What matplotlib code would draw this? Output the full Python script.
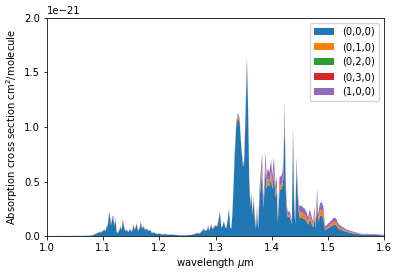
import matplotlib
matplotlib.use("Agg")
import matplotlib.pyplot as plt
import numpy as np

wavelength = [
    1.000, 1.020, 1.040, 1.060, 1.075, 1.082, 1.086, 1.090, 1.093, 1.096, 1.099,
    1.102, 1.104, 1.106, 1.108, 1.110, 1.112, 1.114, 1.116, 1.118, 1.120,
    1.122, 1.124, 1.126, 1.128, 1.131, 1.133, 1.135, 1.137, 1.139, 1.142,
    1.145, 1.148, 1.151, 1.154, 1.156, 1.158, 1.160, 1.162, 1.165, 1.167,
    1.169, 1.172, 1.175, 1.178, 1.181, 1.184, 1.187, 1.190, 1.195, 1.200,
    1.205, 1.210, 1.215, 1.220, 1.230, 1.240, 1.250, 1.258, 1.263, 1.268,
    1.272, 1.276, 1.279, 1.282, 1.285, 1.287, 1.289, 1.292, 1.295, 1.298,
    1.300, 1.303, 1.305, 1.308, 1.310, 1.313, 1.315, 1.317, 1.319, 1.322,
    1.324, 1.326, 1.328, 1.330, 1.332, 1.334, 1.337, 1.340, 1.343, 1.346,
    1.349, 1.351, 1.353, 1.356, 1.358, 1.360, 1.362, 1.364, 1.366, 1.368,
    1.370, 1.372, 1.374, 1.376, 1.378, 1.380, 1.383, 1.385, 1.387, 1.389,
    1.391, 1.393, 1.396, 1.399, 1.401, 1.404, 1.407, 1.409, 1.411, 1.414,
    1.417, 1.419, 1.421, 1.423, 1.425, 1.427, 1.429, 1.431, 1.433, 1.436,
    1.438, 1.440, 1.442, 1.444, 1.446, 1.448,
    1.450, 1.453, 1.456, 1.459, 1.462, 1.465, 1.468, 1.471, 1.474, 1.476,
    1.478, 1.481, 1.483, 1.486, 1.489, 1.492, 1.495, 1.498, 1.502, 1.506,
    1.511, 1.515, 1.518, 1.521, 1.527, 1.533, 1.539, 1.545, 1.553, 1.560,
    1.570, 1.580, 1.590, 1.600,
]

# values in units of 1e-21 cm^2/molecule
band_000 = [
    0.000, 0.001, 0.001, 0.002, 0.003, 0.007, 0.018, 0.026, 0.035, 0.031, 0.044,
    0.053, 0.044, 0.079, 0.088, 0.176, 0.185, 0.097, 0.150, 0.167, 0.088,
    0.150, 0.035, 0.026, 0.044, 0.079, 0.053, 0.141, 0.088, 0.044, 0.053,
    0.035, 0.062, 0.035, 0.097, 0.053, 0.079, 0.106, 0.044, 0.070, 0.123,
    0.070, 0.079, 0.053, 0.062, 0.044, 0.053, 0.026, 0.031, 0.018, 0.022,
    0.013, 0.018, 0.011, 0.013, 0.009, 0.005, 0.007, 0.011, 0.018, 0.026,
    0.022, 0.044, 0.062, 0.044, 0.053, 0.088, 0.044, 0.097, 0.062, 0.079,
    0.096, 0.086, 0.134, 0.221, 0.077, 0.096, 0.134, 0.086, 0.067, 0.154,
    0.250, 0.077, 0.067, 0.192, 0.432, 0.720, 1.010, 1.090, 1.040, 0.800,
    0.635, 0.672, 1.010, 1.600, 1.155, 0.525, 0.270, 0.370, 0.190, 0.330,
    0.156, 0.062, 0.218, 0.055, 0.312, 0.429, 0.593, 0.257, 0.390, 0.601,
    0.429, 0.484, 0.452, 0.546, 0.429, 0.562, 0.351, 0.429, 0.125, 0.421,
    0.429, 0.452, 0.546, 1.100, 0.429, 0.218, 0.172, 0.179, 0.164, 0.109,
    0.930, 0.273, 0.109, 0.600, 0.390, 0.234,
    0.167, 0.174, 0.161, 0.155, 0.136, 0.105, 0.155, 0.112, 0.081, 0.167,
    0.074, 0.300, 0.124, 0.186, 0.192, 0.167, 0.056, 0.062, 0.074, 0.087,
    0.105, 0.099, 0.074, 0.062, 0.050, 0.037, 0.031, 0.025, 0.019, 0.012,
    0.012, 0.011, 0.009, 0.006,
]

band_010 = [
    0.000, 0.000, 0.000, 0.000, 0.000, 0.000, 0.001, 0.002, 0.002, 0.002, 0.003,
    0.003, 0.003, 0.005, 0.005, 0.010, 0.010, 0.006, 0.008, 0.010, 0.005,
    0.008, 0.002, 0.002, 0.003, 0.005, 0.003, 0.008, 0.005, 0.003, 0.003,
    0.002, 0.003, 0.002, 0.006, 0.003, 0.005, 0.006, 0.003, 0.004, 0.007,
    0.004, 0.005, 0.003, 0.003, 0.003, 0.003, 0.002, 0.002, 0.001, 0.001,
    0.001, 0.001, 0.000, 0.001, 0.000, 0.000, 0.000, 0.000, 0.001, 0.002,
    0.001, 0.003, 0.003, 0.003, 0.003, 0.005, 0.003, 0.006, 0.003, 0.005,
    0.002, 0.002, 0.003, 0.005, 0.002, 0.002, 0.003, 0.002, 0.002, 0.003,
    0.005, 0.002, 0.002, 0.004, 0.009, 0.015, 0.020, 0.020, 0.020, 0.015,
    0.013, 0.014, 0.020, 0.025, 0.023, 0.013, 0.020, 0.020, 0.020, 0.020,
    0.014, 0.006, 0.020, 0.005, 0.028, 0.039, 0.053, 0.023, 0.035, 0.054,
    0.039, 0.043, 0.041, 0.049, 0.039, 0.050, 0.032, 0.039, 0.011, 0.038,
    0.039, 0.041, 0.049, 0.060, 0.039, 0.020, 0.015, 0.016, 0.015, 0.010,
    0.040, 0.025, 0.010, 0.040, 0.035, 0.021,
    0.043, 0.045, 0.042, 0.040, 0.035, 0.027, 0.040, 0.029, 0.021, 0.043,
    0.019, 0.050, 0.032, 0.048, 0.050, 0.043, 0.014, 0.016, 0.019, 0.022,
    0.027, 0.026, 0.019, 0.016, 0.013, 0.010, 0.008, 0.006, 0.005, 0.003,
    0.003, 0.003, 0.002, 0.002,
]

band_020 = [
    0.000, 0.000, 0.000, 0.000, 0.000, 0.000, 0.000, 0.000, 0.000, 0.000, 0.000,
    0.000, 0.000, 0.000, 0.000, 0.000, 0.000, 0.000, 0.000, 0.000, 0.000,
    0.000, 0.000, 0.000, 0.000, 0.000, 0.000, 0.000, 0.000, 0.000, 0.000,
    0.000, 0.000, 0.000, 0.000, 0.000, 0.000, 0.000, 0.000, 0.000, 0.000,
    0.000, 0.000, 0.000, 0.000, 0.000, 0.000, 0.000, 0.000, 0.000, 0.000,
    0.000, 0.000, 0.000, 0.000, 0.000, 0.000, 0.000, 0.000, 0.000, 0.000,
    0.000, 0.000, 0.000, 0.000, 0.000, 0.000, 0.000, 0.000, 0.000, 0.000,
    0.000, 0.000, 0.000, 0.000, 0.000, 0.000, 0.000, 0.000, 0.000, 0.000,
    0.000, 0.000, 0.000, 0.000, 0.000, 0.001, 0.001, 0.001, 0.001, 0.001,
    0.001, 0.001, 0.001, 0.001, 0.001, 0.000, 0.000, 0.000, 0.000, 0.000,
    0.000, 0.000, 0.000, 0.000, 0.001, 0.001, 0.001, 0.000, 0.001, 0.001,
    0.001, 0.001, 0.001, 0.001, 0.001, 0.001, 0.000, 0.001, 0.000, 0.001,
    0.001, 0.001, 0.001, 0.001, 0.001, 0.000, 0.000, 0.000, 0.000, 0.000,
    0.001, 0.000, 0.000, 0.001, 0.001, 0.000,
    0.001, 0.001, 0.001, 0.001, 0.001, 0.000, 0.001, 0.000, 0.000, 0.001,
    0.000, 0.001, 0.000, 0.001, 0.001, 0.001, 0.000, 0.000, 0.000, 0.000,
    0.000, 0.000, 0.000, 0.000, 0.000, 0.000, 0.000, 0.000, 0.000, 0.000,
    0.000, 0.000, 0.000, 0.000,
]

band_030 = [
    0.000, 0.000, 0.000, 0.000, 0.000, 0.000, 0.000, 0.000, 0.000, 0.000, 0.000,
    0.000, 0.000, 0.000, 0.000, 0.000, 0.000, 0.000, 0.000, 0.000, 0.000,
    0.000, 0.000, 0.000, 0.000, 0.000, 0.000, 0.000, 0.000, 0.000, 0.000,
    0.000, 0.000, 0.000, 0.000, 0.000, 0.000, 0.000, 0.000, 0.000, 0.000,
    0.000, 0.000, 0.000, 0.000, 0.000, 0.000, 0.000, 0.000, 0.000, 0.000,
    0.000, 0.000, 0.000, 0.000, 0.000, 0.000, 0.000, 0.000, 0.000, 0.000,
    0.000, 0.000, 0.000, 0.000, 0.000, 0.000, 0.000, 0.000, 0.000, 0.000,
    0.000, 0.000, 0.000, 0.000, 0.000, 0.000, 0.000, 0.000, 0.000, 0.000,
    0.000, 0.000, 0.000, 0.000, 0.000, 0.000, 0.000, 0.000, 0.000, 0.000,
    0.000, 0.000, 0.000, 0.000, 0.000, 0.000, 0.000, 0.000, 0.000, 0.000,
    0.000, 0.000, 0.000, 0.000, 0.000, 0.000, 0.000, 0.000, 0.000, 0.000,
    0.000, 0.000, 0.000, 0.000, 0.000, 0.000, 0.000, 0.000, 0.000, 0.000,
    0.000, 0.000, 0.000, 0.000, 0.000, 0.000, 0.000, 0.000, 0.000, 0.000,
    0.000, 0.000, 0.000, 0.000, 0.000, 0.000,
    0.000, 0.000, 0.000, 0.000, 0.000, 0.000, 0.000, 0.000, 0.000, 0.000,
    0.000, 0.000, 0.000, 0.000, 0.000, 0.000, 0.000, 0.000, 0.000, 0.000,
    0.000, 0.000, 0.000, 0.000, 0.000, 0.000, 0.000, 0.000, 0.000, 0.000,
    0.000, 0.000, 0.000, 0.000,
]

band_100 = [
    0.000, 0.000, 0.000, 0.000, 0.000, 0.001, 0.001, 0.002, 0.003, 0.002, 0.003,
    0.004, 0.003, 0.006, 0.007, 0.014, 0.015, 0.008, 0.012, 0.013, 0.007,
    0.012, 0.003, 0.002, 0.003, 0.006, 0.004, 0.011, 0.007, 0.003, 0.004,
    0.003, 0.005, 0.003, 0.007, 0.004, 0.006, 0.008, 0.003, 0.006, 0.010,
    0.006, 0.006, 0.004, 0.005, 0.003, 0.004, 0.002, 0.002, 0.001, 0.002,
    0.001, 0.001, 0.001, 0.001, 0.001, 0.001, 0.001, 0.001, 0.001, 0.002,
    0.002, 0.003, 0.005, 0.003, 0.004, 0.007, 0.003, 0.007, 0.005, 0.006,
    0.002, 0.002, 0.003, 0.004, 0.001, 0.002, 0.003, 0.002, 0.001, 0.003,
    0.005, 0.001, 0.001, 0.004, 0.009, 0.015, 0.020, 0.020, 0.020, 0.015,
    0.012, 0.014, 0.020, 0.025, 0.022, 0.012, 0.010, 0.010, 0.010, 0.010,
    0.030, 0.012, 0.042, 0.010, 0.060, 0.082, 0.114, 0.050, 0.075, 0.115,
    0.082, 0.093, 0.087, 0.105, 0.082, 0.108, 0.067, 0.082, 0.024, 0.081,
    0.082, 0.087, 0.105, 0.060, 0.082, 0.042, 0.033, 0.035, 0.031, 0.021,
    0.060, 0.052, 0.021, 0.080, 0.075, 0.045,
    0.060, 0.061, 0.057, 0.055, 0.049, 0.038, 0.055, 0.039, 0.028, 0.060,
    0.027, 0.080, 0.044, 0.066, 0.068, 0.060, 0.020, 0.022, 0.027, 0.031,
    0.038, 0.035, 0.027, 0.022, 0.017, 0.013, 0.011, 0.009, 0.006, 0.005,
    0.005, 0.004, 0.004, 0.002,
]

labels = ["(0,0,0)", "(0,1,0)", "(0,2,0)", "(0,3,0)", "(1,0,0)"]

s = 72 / 100
plt.rcParams.update({
    "font.size": 10 * s,
    "axes.linewidth": 0.8 * s,
    "xtick.major.width": 0.8 * s,
    "ytick.major.width": 0.8 * s,
    "xtick.major.size": 3.5 * s,
    "ytick.major.size": 3.5 * s,
    "xtick.major.pad": 3.5 * s,
    "ytick.major.pad": 3.5 * s,
})

fig = plt.figure(figsize=(3.99, 2.75), dpi=100)
ax = fig.add_axes([47 / 399, 39 / 275, 337 / 399, 218 / 275])

wl = np.array(wavelength)
scale = 1e-21
ys = [np.array(b) * scale for b in (band_000, band_010, band_020, band_030, band_100)]
ax.stackplot(wl, *ys, labels=labels, linewidth=0.3 * s)

ax.set_xlim(1.0, 1.6)
ax.set_ylim(0, 2e-21)
ax.set_xticks([1.0, 1.1, 1.2, 1.3, 1.4, 1.5, 1.6])
ax.set_yticks([0, 0.5e-21, 1.0e-21, 1.5e-21, 2.0e-21])
ax.set_xlabel(r"wavelength $\mu$m", labelpad=3 * s)
ax.set_ylabel(r"Absorption cross section cm$^2$/molecule", labelpad=4 * s)
ax.legend(loc="upper right", handlelength=2.0, borderpad=0.4, labelspacing=0.5,
          handletextpad=0.8, borderaxespad=0.5 * 1.0)

fig.savefig("out.png", dpi=100)
